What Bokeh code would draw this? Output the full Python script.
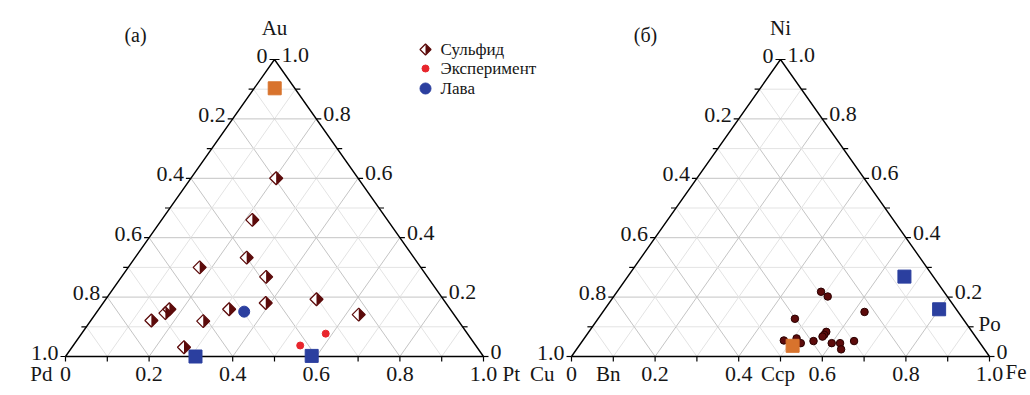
from bokeh.plotting import figure
from bokeh.models import Range1d
from bokeh.embed import file_html
from bokeh.resources import INLINE
from bokeh.core.properties import value

# ---------------- data ----------------
# panel (a): fractions of Au (top vertex) and Pt (right vertex); Pd = 1 - Au - Pt
sulfide_au = [0.60, 0.46, 0.333, 0.30, 0.268, 0.193, 0.18, 0.159, 0.159, 0.146, 0.141, 0.121, 0.119, 0.031]
sulfide_pt = [0.204, 0.217, 0.267, 0.171, 0.346, 0.504, 0.389, 0.312, 0.169, 0.166, 0.631, 0.145, 0.270, 0.268]
experiment_au = [0.077, 0.037]
experiment_pt = [0.584, 0.543]
lava_au = [0.151]
lava_pt = [0.352]
a_blue_sq_au = [0.0, 0.002]
a_blue_sq_pt = [0.311, 0.588]
a_orange_sq_au = [0.903]
a_orange_sq_pt = [0.049]

# panel (б): fractions of Ni (top vertex) and Fe (right vertex); Cu = 1 - Ni - Fe
b_dots_ni = [0.218, 0.202, 0.150, 0.127, 0.083, 0.073, 0.067, 0.054, 0.061, 0.045, 0.052, 0.045, 0.045, 0.024, 0.052]
b_dots_fe = [0.488, 0.512, 0.626, 0.471, 0.568, 0.568, 0.567, 0.481, 0.508, 0.526, 0.553, 0.600, 0.620, 0.633, 0.650]
b_blue_sq_ni = [0.269, 0.159]
b_blue_sq_fe = [0.662, 0.800]
b_orange_sq_ni = [0.036]
b_orange_sq_fe = [0.511]

# tick labels
bottom_ticks = [0.0, 0.2, 0.4, 0.6, 0.8, 1.0]
bottom_labels = ["0", "0.2", "0.4", "0.6", "0.8", "1.0"]
left_labels = ["1.0", "0.8", "0.6", "0.4", "0.2", "0"]    # at heights 0, .2, ... 1
right_labels = ["0", "0.2", "0.4", "0.6", "0.8", "1.0"]   # at heights 0, .2, ... 1
side_levels = [0.0, 0.2, 0.4, 0.6, 0.8, 1.0]

legend_labels = ["Сульфид", "Эксперимент", "Лава"]

# ---------------- styling / layout ----------------
FONT = "Liberation Serif"
W, H = 1030, 395
SX, SY = 418.0, 297.0          # pixels per unit (x, height)
X0PX, Y0PX = 65.0, 356.0       # pixel of left triangle's left vertex
OFF = 506.0 / SX               # horizontal shift of the second triangle

MAROON = "#5c0b0b"
BLUE = "#2b3f9f"
ORANGE = "#d8732d"
RED = "#e8262d"
TXT = "#161616"

p = figure(width=W, height=H, output_backend="svg", toolbar_location=None,
           x_range=Range1d(-X0PX / SX, (W - X0PX) / SX),
           y_range=Range1d(-(H - Y0PX) / SY, Y0PX / SY),
           min_border=0, x_axis_type=None, y_axis_type=None)
p.outline_line_color = None
p.background_fill_color = "white"


def to_xy(top, right, off):
    xs = [r + t / 2.0 + off for t, r in zip(top, right)]
    ys = list(top)
    return xs, ys


def draw_frame(off):
    # grid lines
    for i in range(1, 10):
        t = i / 10.0
        col = "#c4c4c4" if i % 2 == 0 else "#e3e3e3"
        xs = [[t / 2 + off, 1 - t / 2 + off],
              [t + off, t + (1 - t) / 2 + off],
              [1 - t + off, (1 - t) / 2 + off]]
        ys = [[t, t], [0, 1 - t], [0, 1 - t]]
        p.multi_line(xs, ys, line_color=col, line_width=1)
    # triangle
    p.line([off, 1 + off, 0.5 + off, off], [0, 0, 1, 0], line_color="black", line_width=1.4)
    # ticks
    tx0, ty0, tx1, ty1 = [], [], [], []
    for i in range(0, 11):
        t = i / 10.0
        tx0.append(t + off); ty0.append(0); tx1.append(t + off); ty1.append(-5 / SY)
        tx0.append(t / 2 + off); ty0.append(t); tx1.append(t / 2 + off - 5 / SX); ty1.append(t)
        tx0.append(1 - t / 2 + off); ty0.append(t); tx1.append(1 - t / 2 + off + 5 / SX); ty1.append(t)
    p.segment(tx0, ty0, tx1, ty1, line_color="black", line_width=1.2)
    # tick labels
    common = dict(text_font=value(FONT), text_font_size="22px", text_color=TXT)
    p.text([v + off for v in bottom_ticks], [0] * len(bottom_ticks), text=bottom_labels,
           text_align="center", text_baseline="middle", y_offset=17, **common)
    p.text([h / 2 + off for h in side_levels], side_levels, text=left_labels,
           text_align="right", text_baseline="middle", x_offset=-7, y_offset=-4, **common)
    p.text([1 - h / 2 + off for h in side_levels], side_levels, text=right_labels,
           text_align="left", text_baseline="middle", x_offset=7, y_offset=-5, **common)


def diamonds(xs, ys, r=6.5):
    dx, dy = r / SX, r / SY
    lx = [[x, x - dx, x] for x in xs]
    ly = [[y + dy, y, y - dy] for y in ys]
    rx = [[x, x + dx, x] for x in xs]
    ry = [[y + dy, y, y - dy] for y in ys]
    p.patches(lx, ly, fill_color="white", line_color=None)
    p.patches(rx, ry, fill_color=MAROON, line_color=None)
    fx = [[x, x + dx, x, x - dx] for x in xs]
    fy = [[y + dy, y, y - dy, y] for y in ys]
    p.patches(fx, fy, fill_color=None, line_color=MAROON, line_width=1.3)


axis_font = dict(text_font=value(FONT), text_font_size="21px", text_color=TXT,
                 text_baseline="middle")

# ---------------- panel (a) ----------------
draw_frame(0.0)
x, y = to_xy(a_orange_sq_au, a_orange_sq_pt, 0.0)
p.scatter(x, y, marker="square", size=13, fill_color=ORANGE, line_color=ORANGE)
x, y = to_xy(sulfide_au, sulfide_pt, 0.0)
diamonds(x, y)
x, y = to_xy(lava_au, lava_pt, 0.0)
p.scatter(x, y, marker="circle", size=11, fill_color=BLUE, line_color=BLUE)
x, y = to_xy(experiment_au, experiment_pt, 0.0)
p.scatter(x, y, marker="circle", size=7, fill_color=RED, line_color=RED)
x, y = to_xy(a_blue_sq_au, a_blue_sq_pt, 0.0)
p.scatter(x, y, marker="square", size=13, fill_color=BLUE, line_color=BLUE)

p.text([0.5], [1.0], text=["Au"], text_align="center", y_offset=-32, **axis_font)
p.text([0.0], [0.0], text=["Pd"], text_align="right", x_offset=-13, y_offset=17, **axis_font)
p.text([1.0], [0.0], text=["Pt"], text_align="left", x_offset=19, y_offset=17, **axis_font)
p.text([0.0], [1.0], text=["(a)"], text_align="center", x_offset=70, y_offset=-25,
       text_font=value(FONT), text_font_size="20px", text_color=TXT, text_baseline="middle")

# legend
leg_x = (425 - X0PX) / SX
leg_tx = (440 - X0PX) / SX
leg_y = [(Y0PX - py) / SY for py in (49, 68, 88)]
diamonds([leg_x], [leg_y[0]], r=5.5)
p.scatter([leg_x], [leg_y[1]], marker="circle", size=7, fill_color=RED, line_color=RED)
p.scatter([leg_x], [leg_y[2]], marker="circle", size=11, fill_color=BLUE, line_color=BLUE)
p.text([leg_tx] * 3, leg_y, text=legend_labels, text_align="left", text_baseline="middle",
       text_font=value(FONT), text_font_size="17px", text_color=TXT)

# ---------------- panel (б) ----------------
draw_frame(OFF)
x, y = to_xy(b_blue_sq_ni, b_blue_sq_fe, OFF)
p.scatter(x, y, marker="square", size=13, fill_color=BLUE, line_color=BLUE)
x, y = to_xy(b_dots_ni, b_dots_fe, OFF)
p.scatter(x, y, marker="circle", size=7.5, fill_color=MAROON, line_color="#2a0000", line_width=1)
x, y = to_xy(b_orange_sq_ni, b_orange_sq_fe, OFF)
p.scatter(x, y, marker="square", size=13, fill_color=ORANGE, line_color=ORANGE)

p.text([0.5 + OFF], [1.0], text=["Ni"], text_align="center", y_offset=-32, **axis_font)
p.text([OFF], [0.0], text=["Cu"], text_align="right", x_offset=-17, y_offset=17, **axis_font)
p.text([1.0 + OFF], [0.0], text=["Fe"], text_align="left", x_offset=16, y_offset=15, **axis_font)
p.text([0.088 + OFF, 0.494 + OFF], [0.0, 0.0], text=["Bn", "Ccp"], text_align="center",
       y_offset=17, **axis_font)
p.text([0.95 + OFF], [0.1], text=["Po"], text_align="left", x_offset=10, y_offset=-3, **axis_font)
p.text([OFF], [1.0], text=["(б)"], text_align="center", x_offset=74, y_offset=-25,
       text_font=value(FONT), text_font_size="20px", text_color=TXT, text_baseline="middle")

open("out.html", "w").write(file_html(p, INLINE))
